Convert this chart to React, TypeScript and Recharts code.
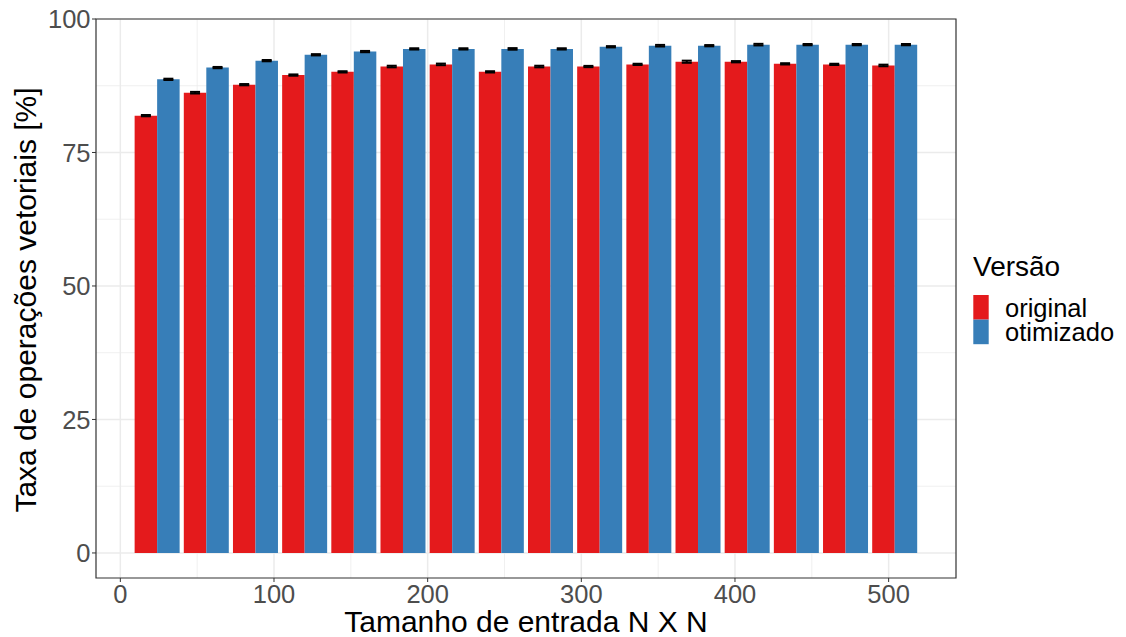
import React from 'react';
import { BarChart, Bar, XAxis, YAxis, CartesianGrid, ErrorBar, Legend, ReferenceArea, Label } from 'recharts';

const sizes = [24, 56, 88, 120, 152, 184, 216, 248, 280, 312, 344, 376, 408, 440, 472, 504];
const original = [81.9, 86.2, 87.7, 89.5, 90.1, 91.1, 91.5, 90.1, 91.1, 91.1, 91.5, 92.0, 92.0, 91.6, 91.5, 91.3];
const otimizado = [88.7, 90.9, 92.2, 93.3, 93.9, 94.4, 94.4, 94.4, 94.4, 94.8, 95.0, 95.0, 95.2, 95.2, 95.2, 95.2];
const originalErr = [0.12, 0.15, 0.12, 0.12, 0.12, 0.15, 0.15, 0.12, 0.15, 0.12, 0.12, 0.2, 0.12, 0.12, 0.12, 0.15];
const otimizadoErr = [0.12, 0.12, 0.12, 0.12, 0.12, 0.12, 0.12, 0.15, 0.12, 0.12, 0.15, 0.12, 0.15, 0.12, 0.12, 0.12];

const xTicks = [0, 100, 200, 300, 400, 500];
const xMinor = [50, 150, 250, 350, 450];
const yTicks = [0, 25, 50, 75, 100];
const yMinor = [12.5, 37.5, 62.5, 87.5];

const series = [
  { key: 'original', label: 'original', color: '#E41A1C' },
  { key: 'otimizado', label: 'otimizado', color: '#377EB8' },
];

const data = sizes.map((n, i) => ({
  n,
  original: original[i],
  otimizado: otimizado[i],
  originalErr: originalErr[i],
  otimizadoErr: otimizadoErr[i],
}));

const X_DOMAIN: [number, number] = [-15.84, 543.84];
const Y_DOMAIN: [number, number] = [-4.69, 100];
const FONT = '"Liberation Sans", Arial, Helvetica, sans-serif';

const LegendBox = () => (
  <svg width={153} height={110} style={{ fontFamily: FONT }}>
    <text x={0} y={26} fontSize={28} fill="#000">Versão</text>
    {series.map((s, i) => (
      <g key={s.key}>
        <rect x={0.3} y={45 + i * 24.6} width={15.4} height={24.6} fill={s.color} />
        <text x={32} y={66.7 + i * 24} fontSize={25.5} fill="#000">{s.label}</text>
      </g>
    ))}
  </svg>
);

const App: React.FC = () => {
  return (
    <div style={{ position: 'absolute', left: 0, top: 0, width: 1126, height: 637, background: '#fff', fontFamily: FONT }}>
      <BarChart
        width={1126}
        height={637}
        data={data}
        margin={{ top: 19, right: 170, bottom: 0, left: 0 }}
        barGap={0}
        barSize={22.5}
      >
        <CartesianGrid
          stroke="#EBEBEB"
          strokeWidth={0.75}
          horizontalValues={yMinor}
          verticalValues={xMinor}
        />
        <CartesianGrid
          stroke="#EBEBEB"
          strokeWidth={1.5}
          horizontalValues={yTicks}
          verticalValues={xTicks}
        />
        <XAxis
          dataKey="n"
          type="number"
          domain={X_DOMAIN}
          ticks={xTicks}
          allowDataOverflow
          height={59}
          axisLine={false}
          tickSize={4}
          tickMargin={3}
          tickLine={{ stroke: '#333333', strokeWidth: 1 }}
          tick={{ fill: '#4D4D4D', fontSize: 25.5 }}
        >
          <Label
            content={({ viewBox }: any) => (
              <text
                x={viewBox.x + viewBox.width / 2}
                y={viewBox.y + 53.6}
                textAnchor="middle"
                fontSize={30}
                fill="#000"
              >
                Tamanho de entrada N X N
              </text>
            )}
          />
        </XAxis>
        <YAxis
          type="number"
          domain={Y_DOMAIN}
          ticks={yTicks}
          allowDataOverflow
          width={96}
          axisLine={false}
          tickSize={4}
          tickMargin={1.5}
          tickLine={{ stroke: '#333333', strokeWidth: 1 }}
          tick={{ fill: '#4D4D4D', fontSize: 25.5 }}
        >
          <Label
            content={({ viewBox }: any) => {
              const cx = 36;
              const cy = viewBox.y + viewBox.height / 2 + 1.5;
              return (
                <text
                  x={cx}
                  y={cy}
                  transform={`rotate(-90, ${cx}, ${cy})`}
                  textAnchor="middle"
                  fontSize={30}
                  fill="#000"
                >
                  Taxa de operações vetoriais [%]
                </text>
              );
            }}
          />
        </YAxis>
        {series.map((s) => (
          <Bar key={s.key} dataKey={s.key} name={s.label} fill={s.color} isAnimationActive={false}>
            <ErrorBar dataKey={`${s.key}Err`} width={5} stroke="#000" strokeWidth={2} direction="y" />
          </Bar>
        ))}
        <ReferenceArea
          x1={X_DOMAIN[0]}
          x2={X_DOMAIN[1]}
          y1={Y_DOMAIN[0]}
          y2={Y_DOMAIN[1]}
          fill="none"
          fillOpacity={0}
          stroke="#333333"
          strokeWidth={1.2}
          ifOverflow="visible"
        />
        <Legend
          layout="vertical"
          align="center"
          verticalAlign="middle"
          content={() => <LegendBox />}
          wrapperStyle={{ left: 973, top: 250, width: 153, height: 110 }}
        />
      </BarChart>
    </div>
  );
};

export default App;
